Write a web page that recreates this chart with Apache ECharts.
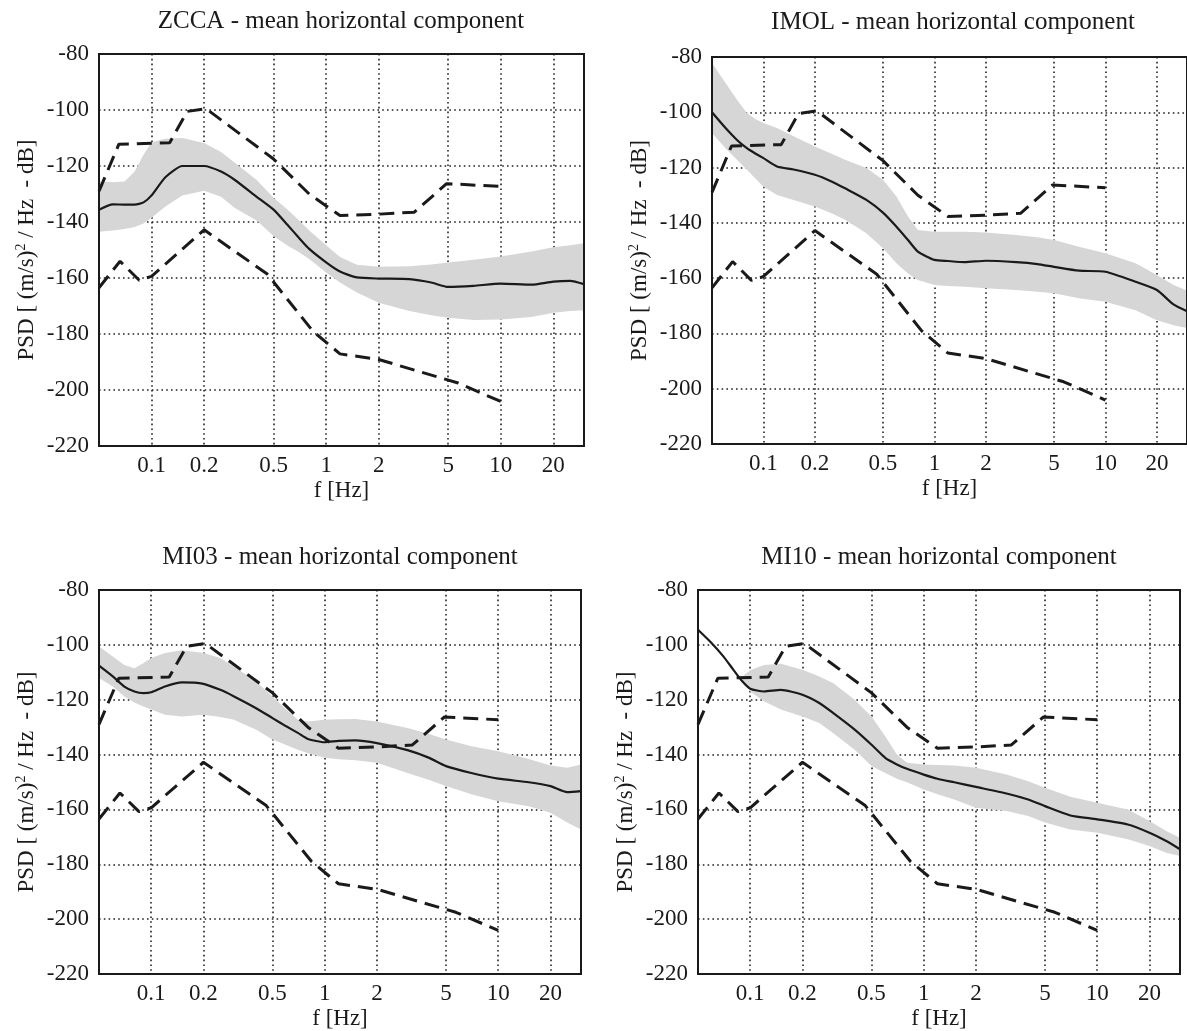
<!DOCTYPE html>
<html>
<head>
<meta charset="utf-8">
<script src="https://cdn.jsdelivr.net/npm/echarts@6/dist/echarts.min.js"></script>
<style>
html,body{margin:0;padding:0;background:#fff;}
#chart{width:1187px;height:1031px;}
</style>
</head>
<body>
<div id="chart"></div>
<script>
// ---------------- data ----------------
const xTicks = [0.1, 0.2, 0.5, 1, 2, 5, 10, 20];
const yTicks = [-80, -100, -120, -140, -160, -180, -200, -220];

const freq = [0.05,0.06,0.07,0.08,0.09,0.1,0.12,0.15,0.2,0.25,0.3,0.4,0.5,0.6,0.7,0.8,1,1.2,1.5,2,3,4,5,7,10,15,20,25,30];

// Peterson noise models (dashed)
const nhnmF = [0.05, 0.065, 0.127, 0.16, 0.205, 0.5, 0.8, 1.2, 2, 3.2, 4.9, 10];
const nhnmV = [-129, -112.2, -111.7, -100.5, -99.5, -117.5, -130, -137.7, -137.2, -136.5, -126.3, -127.3];
const nlnmF = [0.05, 0.066, 0.085, 0.1, 0.2, 0.46, 0.84, 1.2, 2, 5.7, 10];
const nlnmV = [-163.5, -154, -160.8, -159.4, -142.8, -158.6, -179, -187.1, -189.1, -197.5, -204.1];

// ZCCA
const zccaMean = [-135.6,-133.7,-133.8,-133.8,-133,-130.5,-124,-120,-120,-122,-125,-131,-135.6,-141,-145.7,-149.6,-154.4,-157.7,-159.8,-160.2,-160.4,-161.6,-163.2,-162.8,-162,-162.4,-161.3,-161,-162.2];
const zccaUp   = [-125.5,-125.8,-125.5,-122,-116,-111.5,-110.3,-110,-111.8,-115,-118.8,-125,-131.3,-135.5,-139.5,-143,-148.3,-152.5,-155.3,-156,-155.8,-155.2,-154.5,-153.5,-152.3,-150.5,-149,-148.3,-147.6];
const zccaLo   = [-143.5,-143,-142.5,-141.8,-140.5,-138.5,-134.5,-130.5,-128.8,-131,-135,-139.5,-145,-148.4,-150.8,-153.2,-158,-161.6,-165.2,-168.8,-171.8,-173.3,-174.2,-175,-174.8,-173.9,-172.4,-171.8,-171.5];

// IMOL
const imolMean = [-100,-105.7,-110,-113,-115,-116.6,-119.6,-120.7,-122.6,-125,-127.5,-131.7,-136.3,-141.4,-146.2,-150.4,-153.4,-153.8,-154.2,-153.7,-154.2,-154.9,-155.9,-157.3,-157.7,-161.3,-164.3,-169.5,-172];
const imolUp   = [-82.2,-89.4,-95.5,-100.3,-102.5,-103.9,-105.7,-108.7,-112.4,-115,-117.2,-120.2,-124.4,-130.5,-137.7,-142.6,-143.2,-143.2,-143.2,-143.5,-144.4,-145.2,-146.2,-148.6,-151,-154.6,-158.9,-162.5,-164.5];
const imolLo   = [-107.5,-113,-117.2,-120.8,-124,-126.9,-129.9,-131.7,-134.1,-136.5,-138.9,-143.8,-149.2,-154.6,-158.3,-160.7,-162.5,-162.8,-163.1,-163.7,-164.3,-164.9,-165.5,-167.3,-168.5,-171.6,-175.2,-177,-178];

// MI03
const mi03Mean = [-107.6,-111.5,-115.2,-117,-117.6,-117.3,-115.2,-113.7,-114.2,-116.4,-118.8,-123,-126.7,-129.7,-132.1,-134.3,-135.5,-135,-134.8,-135.8,-138.4,-141.2,-144.2,-146.7,-148.8,-150.1,-151.5,-153.7,-153.3];
const mi03Up   = [-100.6,-104.2,-107.3,-108.5,-106.7,-104.8,-103,-102,-103,-104.8,-107.9,-113.3,-118.8,-123.6,-127.3,-127.9,-127.3,-127.1,-127,-127.9,-130.3,-132.5,-134.5,-137,-138.8,-141.6,-144,-144.8,-143.6];
const mi03Lo   = [-112.1,-115.2,-118.8,-121,-122.5,-123.6,-125.5,-126.1,-125.5,-126.3,-127.3,-130.9,-134.5,-136.5,-138.2,-139.5,-141.2,-141.7,-142.1,-143,-146.7,-149.3,-151.5,-154.5,-157,-158.8,-161.2,-164.8,-167.3];

// MI10
const mi10Mean = [-94.5,-99.4,-104.2,-109.1,-113.3,-116,-117,-116.4,-118.2,-121.2,-124.8,-130.9,-136.4,-141.2,-143.6,-145.2,-147.3,-148.8,-150.1,-151.8,-154.2,-156.4,-158.8,-162.2,-163.6,-165.5,-168.5,-171.5,-174.5];
const mi10Up   = [null,null,null,null,-111.5,-109.3,-107.3,-106.9,-109.1,-111.5,-113.9,-120,-126.1,-133.3,-140,-143,-143.6,-143.8,-144,-144.8,-147.3,-149.7,-152.1,-155.4,-157.6,-160,-164.2,-167.9,-170.3];
const mi10Lo   = [null,null,null,null,-113,-117,-120.6,-123.6,-126.1,-128.5,-132.1,-138.2,-144.2,-146.7,-148.8,-150.1,-152.7,-154.5,-156.4,-159.4,-160.6,-162.4,-164.8,-167.3,-168.5,-170.9,-173.3,-175.8,-177];

const stations = ['ZCCA', 'IMOL', 'MI03', 'MI10'];
const titleSuffix = ' - mean horizontal component';

// ---------------- layout & style ----------------
const FONT = "'Liberation Serif', 'Times New Roman', serif";
const INK = '#1a1a1a';
const panels = [
  { mean: zccaMean, up: zccaUp, lo: zccaLo, grid: { left: 99,  top: 54,  width: 485, height: 392 }, tx: 341, ty: 21 },
  { mean: imolMean, up: imolUp, lo: imolLo, grid: { left: 712, top: 57,  width: 482, height: 387 }, tx: 953, ty: 22 },
  { mean: mi03Mean, up: mi03Up, lo: mi03Lo, grid: { left: 99,  top: 590, width: 482, height: 385 }, tx: 340, ty: 557 },
  { mean: mi10Mean, up: mi10Up, lo: mi10Lo, grid: { left: 698, top: 590, width: 482, height: 385 }, tx: 939, ty: 557 }
];

const grids = [], xAxes = [], yAxes = [], series = [], graphics = [];
const zip = (xs, ys) => xs.map((x, i) => [x, ys[i]]);

function bandRenderItem(params, api) {
  if (params.dataIndexInside !== 0) return null;
  const n = params.dataInsideLength;
  const top = [], bot = [];
  for (let k = 0; k < n; k++) {
    const f = api.value(0, k), u = api.value(1, k), l = api.value(2, k);
    if (!isFinite(u) || !isFinite(l)) continue;
    top.push(api.coord([f, u]));
    bot.push(api.coord([f, l]));
  }
  const pts = top.concat(bot.reverse());
  return {
    type: 'polygon',
    shape: { points: pts },
    style: { fill: '#d6d6d6', stroke: null }
  };
}

const dashStyle = { color: INK, width: 3, type: [15, 8], cap: 'butt' };

panels.forEach((p, i) => {
  grids.push(Object.assign({ show: true, z: 10, borderColor: INK, borderWidth: 2, backgroundColor: 'transparent' }, p.grid));
  xAxes.push({
    type: 'log', logBase: 10, gridIndex: i, min: 0.05, max: 30,
    name: 'f [Hz]', nameLocation: 'middle', nameGap: 33,
    nameTextStyle: { fontFamily: FONT, fontSize: 23, color: INK },
    axisLine: { show: false },
    axisTick: { show: false, customValues: xTicks },
    axisLabel: { customValues: xTicks, fontFamily: FONT, fontSize: 23, color: INK, margin: 8,
                 formatter: v => String(+v.toPrecision(3)) },
    splitLine: { show: true, customValues: xTicks, lineStyle: { color: '#222', width: 1.6, type: [1.6, 3.2], cap: 'butt' } }
  });
  yAxes.push({
    type: 'value', gridIndex: i, min: -220, max: -80, interval: 20,
    name: '{a|PSD [ (m/s)}{s|2}{a| / Hz  - dB]}', nameLocation: 'middle', nameGap: 59,
    nameTextStyle: { rich: {
      a: { fontFamily: FONT, fontSize: 23, color: INK, lineHeight: 26 },
      s: { fontFamily: FONT, fontSize: 14, color: INK, lineHeight: 14, verticalAlign: 'top' }
    } },
    axisLine: { show: false },
    axisTick: { show: false },
    axisLabel: { fontFamily: FONT, fontSize: 23, color: INK, margin: 10 },
    splitLine: { show: true, lineStyle: { color: '#222', width: 1.6, type: [1.6, 3.2], cap: 'butt' } }
  });

  series.push({
    type: 'custom', xAxisIndex: i, yAxisIndex: i, silent: true, z: 1,
    data: freq.map((f, k) => [f, p.up[k], p.lo[k]]),
    encode: { x: 0, y: [1, 2] },
    renderItem: bandRenderItem
  });
  series.push({
    type: 'line', xAxisIndex: i, yAxisIndex: i, data: zip(nhnmF, nhnmV), symbol: 'none', silent: true, z: 3,
    lineStyle: dashStyle
  });
  series.push({
    type: 'line', xAxisIndex: i, yAxisIndex: i, data: zip(nlnmF, nlnmV), symbol: 'none', silent: true, z: 3,
    lineStyle: dashStyle
  });
  series.push({
    type: 'line', xAxisIndex: i, yAxisIndex: i, data: zip(freq, p.mean), symbol: 'none', silent: true, z: 4,
    smooth: 0.2,
    lineStyle: { color: INK, width: 2.2 }
  });

  graphics.push({
    type: 'text', x: p.tx, y: p.ty, silent: true,
    style: { text: stations[i] + titleSuffix, fontFamily: FONT, fontSize: 25, fill: INK,
             textAlign: 'center', textVerticalAlign: 'middle' }
  });
});

const chart = echarts.init(document.getElementById('chart'), null, { renderer: 'canvas' });
chart.setOption({
  animation: false,
  backgroundColor: '#ffffff',
  grid: grids,
  xAxis: xAxes,
  yAxis: yAxes,
  series: series,
  graphic: graphics
});
</script>
</body>
</html>
